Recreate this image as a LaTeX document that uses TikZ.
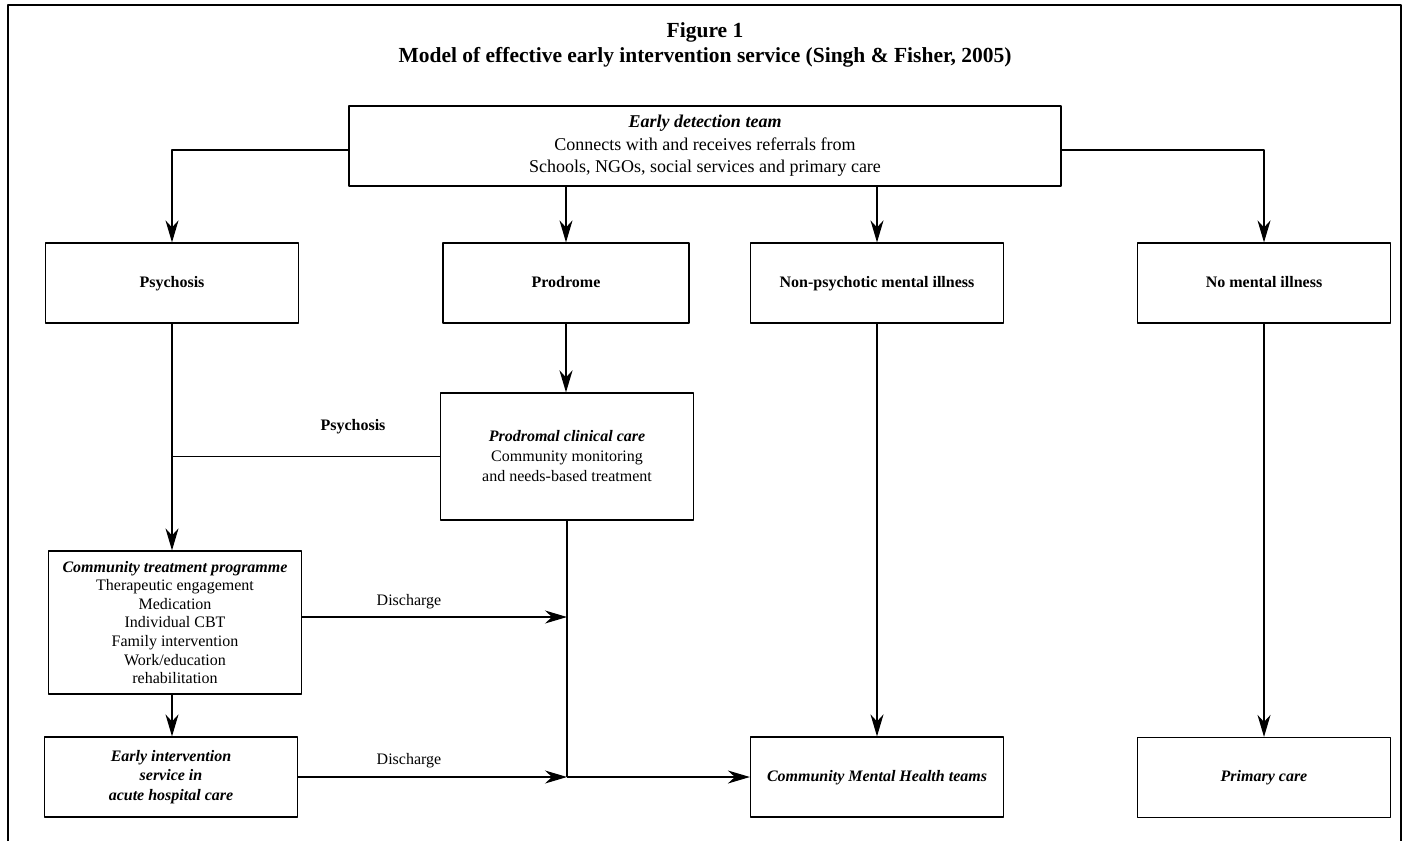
\documentclass[tikz,border=0pt]{standalone}
\usepackage{fontspec}
\setmainfont{Liberation Serif}
\usetikzlibrary{arrows.meta}
\begin{document}
\begin{tikzpicture}[x=1pt, y=-1pt, line join=round, font=\fontsize{16}{19}\selectfont,
	>={Stealth[length=22pt,width=13pt,inset=7pt]},
	box/.style={draw, line width=1.2pt, minimum width=253pt, minimum height=80pt, align=center, inner sep=0pt},
	lbl/.style={font=\fontsize{16}{19}\selectfont\bfseries, text height=11pt, text depth=3pt},
	lbi/.style={font=\fontsize{16}{19.5}\selectfont\bfseries\itshape},
	link/.style={line width=1.2pt}]
	\useasboundingbox (0,0) rectangle (1407,841);
	\draw[line width=2.5pt] (8,841) -- (8,5) -- (1401,5) -- (1401,841); % khung ngoai
	\node[font=\fontsize{21.5}{25}\selectfont\bfseries, align=center] (title) at (705,45) {Figure 1\\Model of effective early intervention service (Singh \& Fisher, 2005)};
	\node[box, minimum width=712pt, font=\fontsize{18}{22.5}\selectfont] (edt) at (705,146) {\textbf{\textit{Early detection team}}\\Connects with and receives referrals from\\Schools, NGOs, social services and primary care};
	\node[box, lbl] (psy) at (172,283) {Psychosis};
	\node[box, lbl, minimum width=246pt] (pro) at (566,283) {Prodrome};
	\node[box, lbl] (npm) at (877,283) {Non-psychotic mental illness};
	\node[box, lbl] (nmi) at (1264,283) {No mental illness};
	\node[box, minimum height=127pt, font=\fontsize{16}{20}\selectfont] (pcc) at (567,456.5) {\textbf{\textit{Prodromal clinical care}}\\Community monitoring\\and needs-based treatment};
	\node[box, minimum height=143pt, font=\fontsize{16}{18.6}\selectfont] (ctp) at (175,622.5) {\textbf{\textit{Community treatment programme}}\\Therapeutic engagement\\Medication\\Individual CBT\\Family intervention\\Work/education\\rehabilitation};
	\node[box, lbi] (eis) at (171,777) {Early intervention\\service in\\acute hospital care};
	\node[box, lbi, text height=11pt, text depth=3pt] (cmh) at (877,777) {Community Mental Health teams};
	\node[box, lbi, text height=11pt, text depth=3pt] (pc) at (1264,777.5) {Primary care};
	\node[lbl] (plab) at (353,426) {Psychosis};
	\node (dc1) at (409,602) {Discharge};
	\node (dc2) at (409,761) {Discharge};
	\coordinate (hy) at (0,150);
	\coordinate (d1) at (567,617);
	\coordinate (d2) at (567,777);
	% mui ten
	\draw[link,->] (edt.west |- hy) -| (psy.north);
	\draw[link,->] (edt.east |- hy) -| (nmi.north);
	\draw[link,->] (edt.south -| pro.north) -- (pro.north);
	\draw[link,->] (edt.south -| npm.north) -- (npm.north);
	\draw[line width=2.5pt,->] (pro.south) -- (pro.south |- pcc.north);
	\draw[link,->] (psy.south) -- (psy.south |- ctp.north);
	\draw[link] (pcc.west) -- (pcc.west -| psy.south);
	\draw[link,->] (ctp.south -| psy.south) -- (eis.north -| psy.south);
	\draw[link] (pcc.south) -- (d2);
	\draw[link,->] (ctp.east |- d1) -- (d1);
	\draw[link,->] (eis.east) -- (d2);
	\draw[link,->] (d2) -- (cmh.west);
	\draw[link,->] (npm.south) -- (cmh.north);
	\draw[link,->] (nmi.south) -- (pc.north);
\end{tikzpicture}
\end{document}
